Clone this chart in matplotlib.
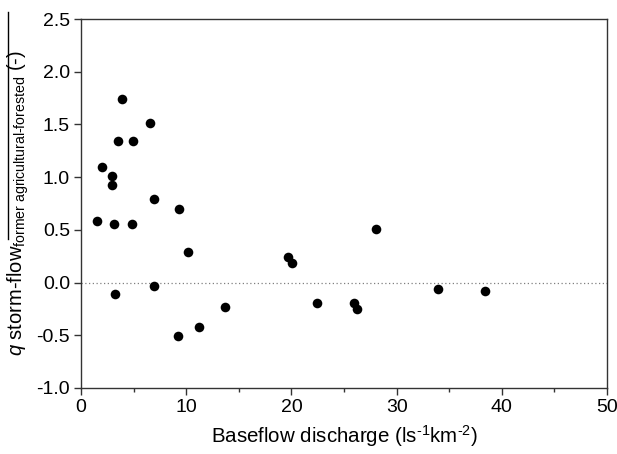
import numpy as np
import matplotlib
matplotlib.use("Agg")
import matplotlib.pyplot as plt
from matplotlib.ticker import MultipleLocator

plt.rcParams['font.family'] = ['Liberation Sans', 'DejaVu Sans']
plt.rcParams['mathtext.fontset'] = 'custom'
plt.rcParams['mathtext.rm'] = 'Liberation Sans'
plt.rcParams['mathtext.it'] = 'Liberation Sans:italic'

# baseflow discharge (l s-1 km-2) and storm-flow difference (-)
baseflow = [1.55, 1.96, 2.92, 2.92, 3.1, 3.2, 3.49, 3.93, 4.94, 4.85,
            6.59, 6.94, 6.94, 9.28, 9.25, 10.17, 11.2, 13.69, 19.65, 20.06,
            22.47, 25.95, 26.2, 28.04, 33.97, 38.37]
qdiff = [0.58, 1.10, 1.01, 0.925, 0.555, -0.11, 1.345, 1.74, 1.345, 0.555,
         1.51, 0.795, -0.03, 0.695, -0.51, 0.29, -0.42, -0.235, 0.24, 0.19,
         -0.19, -0.19, -0.25, 0.51, -0.065, -0.08]

fig = plt.figure(figsize=(6.17, 4.54), dpi=100)
ax = fig.add_axes([81/617, 1 - 388/454, 526/617, 369/454])

ax.axhline(0, color='#808080', linestyle=(0, (1, 2)), linewidth=0.9, zorder=1)
ax.scatter(baseflow, qdiff, s=48, color='black', zorder=3, linewidths=0)

ax.set_xlim(0, 50)
ax.set_ylim(-1.0, 2.5)
ax.xaxis.set_major_locator(MultipleLocator(10))
ax.xaxis.set_minor_locator(MultipleLocator(5))
ax.yaxis.set_major_locator(MultipleLocator(0.5))
ax.yaxis.set_major_formatter(plt.FuncFormatter(lambda v, p: f"{v:.1f}"))
ax.tick_params(which='both', direction='out', top=False, right=False,
               labelsize=14, width=1, color='#333333')
ax.tick_params(which='major', length=5, pad=3)
ax.tick_params(which='minor', length=3)
for s in ax.spines.values():
    s.set_linewidth(1)
    s.set_color('#333333')

ax.set_xlabel(r'Baseflow discharge (ls$^{\text{-1}}$km$^{\text{-2}}$)', fontsize=14.8, labelpad=5)
ax.set_ylabel(r'$\mathit{q}$ storm-flow$_{\mathregular{former\ agricultural\text{-}forested}}$ (-)',
              fontsize=14.5, labelpad=4)

# overline above the subscript part of the label
ax.plot([-0.139, -0.139], [0.405, 1.019], transform=ax.transAxes, color='black',
        linewidth=1, clip_on=False)

fig.savefig("out.png", dpi=100)
